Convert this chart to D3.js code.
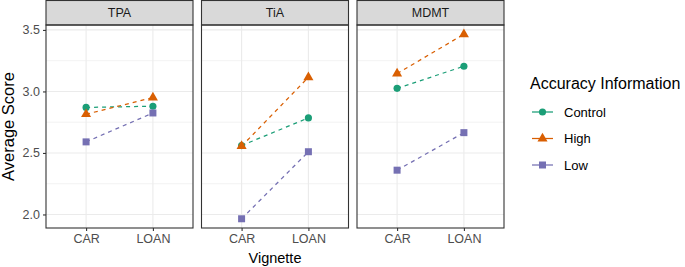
<!DOCTYPE html>
<html><head><meta charset="utf-8">
<script src="https://cdn.jsdelivr.net/npm/d3@7"></script>
<style>body{margin:0;background:#fff;} text{font-family:"Liberation Sans",Arial,sans-serif;}</style>
</head><body><svg id="c" width="685" height="267"></svg>
<script>
const panels = ["TPA","TiA","MDMT"];
const vignettes = ["CAR","LOAN"];
const groups = ["Control","High","Low"];
const colors = ["#1B9E77","#D95F02","#7570B3"];
const yTicks = [2.0,2.5,3.0,3.5];
const yMinor = [2.25,2.75,3.25];
// values [panel][group] = [CAR, LOAN]
const controlVals = [[2.87,2.88],[2.56,2.785],[3.025,3.205]];
const highVals    = [[2.815,2.95],[2.555,3.115],[3.145,3.465]];
const lowVals     = [[2.59,2.825],[1.965,2.51],[2.36,2.665]];
const seriesVals = [controlVals, highVals, lowVals];

(function(){
const svg = d3.select("#c");
const panelX = [46,201.5,357], panelW = 147;
const pTop = 25, pBottom = 228, stripH = 25;
const all = seriesVals.flat(2);
const mn = d3.min(all), mx = d3.max(all), pad = (mx-mn)*0.05;
const y = d3.scaleLinear().domain([mn-pad, mx+pad]).range([pBottom, pTop]);
const symbols = [d3.symbolCircle, d3.symbolTriangle, d3.symbolSquare];
const symSizes = [40, 44, 49];
const tickFont = 12.5;

panels.forEach((p, pi) => {
  const x0 = panelX[pi];
  const x = d3.scalePoint().domain(vignettes).range([x0, x0+panelW]).padding(0.6);
  const g = svg.append("g");
  g.append("rect").attr("x",x0).attr("y",pTop).attr("width",panelW).attr("height",pBottom-pTop).attr("fill","#fff");
  yMinor.forEach(v => g.append("line").attr("x1",x0).attr("x2",x0+panelW).attr("y1",y(v)).attr("y2",y(v)).attr("stroke","#EBEBEB").attr("stroke-width",0.6));
  yTicks.forEach(v => g.append("line").attr("x1",x0).attr("x2",x0+panelW).attr("y1",y(v)).attr("y2",y(v)).attr("stroke","#EBEBEB").attr("stroke-width",1.1));
  vignettes.forEach(v => g.append("line").attr("x1",x(v)).attr("x2",x(v)).attr("y1",pTop).attr("y2",pBottom).attr("stroke","#EBEBEB").attr("stroke-width",1.1));
  g.append("rect").attr("x",x0).attr("y",0.5).attr("width",panelW).attr("height",stripH-0.5).attr("fill","#D9D9D9").attr("stroke","#333").attr("stroke-width",1.1);
  g.append("text").attr("x",x0+panelW/2).attr("y",stripH/2+4.5).attr("text-anchor","middle").attr("font-size",12.5).attr("fill","#1A1A1A").text(p);
  groups.forEach((gr, gi) => {
    const vals = seriesVals[gi][pi];
    const line = d3.line().x((d,i)=>x(vignettes[i])).y(d=>y(d));
    g.append("path").attr("d",line(vals)).attr("fill","none").attr("stroke",colors[gi]).attr("stroke-width",1.25).attr("stroke-dasharray","4,4");
    vals.forEach((v,i)=>{
      g.append("path").attr("d",d3.symbol().type(symbols[gi]).size(symSizes[gi])()).attr("transform",`translate(${x(vignettes[i])},${y(v)})`).attr("fill",colors[gi]);
    });
  });
  g.append("rect").attr("x",x0).attr("y",pTop).attr("width",panelW).attr("height",pBottom-pTop).attr("fill","none").attr("stroke","#333").attr("stroke-width",1.1);
  const xa = g.append("g").attr("transform",`translate(0,${pBottom})`).call(d3.axisBottom(x).tickSize(3).tickPadding(3));
  xa.select(".domain").remove();
  xa.selectAll("line").attr("stroke","#333").attr("stroke-width",1.1);
  xa.selectAll("text").attr("font-size",tickFont).attr("fill","#4D4D4D").attr("font-family","Liberation Sans, Arial, sans-serif");
  if (pi===0) {
    const ya = g.append("g").attr("transform",`translate(${x0},0)`).call(d3.axisLeft(y).tickValues(yTicks).tickFormat(d3.format(".1f")).tickSize(3).tickPadding(3));
    ya.select(".domain").remove();
    ya.selectAll("line").attr("stroke","#333").attr("stroke-width",1.1);
    ya.selectAll("text").attr("font-size",tickFont).attr("fill","#4D4D4D").attr("font-family","Liberation Sans, Arial, sans-serif");
  }
});

svg.append("text").attr("transform",`translate(13.5,${(pTop+pBottom)/2}) rotate(-90)`).attr("text-anchor","middle").attr("font-size",16.5).attr("fill","#000").text("Average Score");
svg.append("text").attr("x",(panelX[0]+panelX[2]+panelW)/2).attr("y",263).attr("text-anchor","middle").attr("font-size",14.5).attr("fill","#000").text("Vignette");

const lg = svg.append("g");
lg.append("text").attr("x",530).attr("y",89).attr("font-size",16).attr("fill","#000").text("Accuracy Information");
groups.forEach((gr, gi) => {
  const yy = 112 + gi*26.5;
  lg.append("line").attr("x1",532).attr("x2",553).attr("y1",yy).attr("y2",yy).attr("stroke",colors[gi]).attr("stroke-width",1.25);
  lg.append("path").attr("d",d3.symbol().type(symbols[gi]).size(symSizes[gi])()).attr("transform",`translate(542.5,${yy})`).attr("fill",colors[gi]);
  lg.append("text").attr("x",564).attr("y",yy+4.5).attr("font-size",13).attr("fill","#000").text(gr);
});
})();
</script></body></html>
